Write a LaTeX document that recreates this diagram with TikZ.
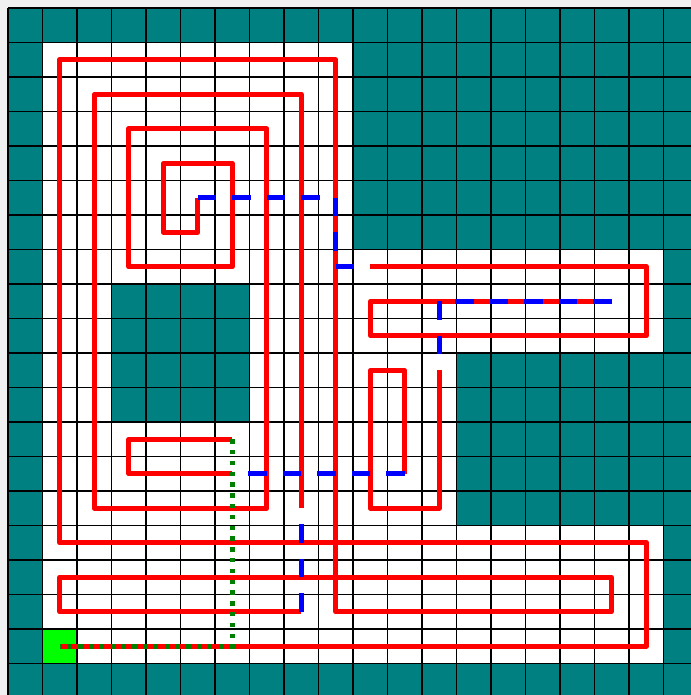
\documentclass[tikz,border=0pt]{standalone}
\definecolor{tealc}{RGB}{0,128,128}
\definecolor{bgc}{RGB}{240,240,240}
\definecolor{limec}{RGB}{0,255,0}
\definecolor{darkg}{RGB}{0,128,0}
\tikzset{
  gridline/.style={black, line width=1.1pt},
  cover/.style={red, line width=3.75pt, line join=round},
  astar/.style={blue, line width=3.75pt, dash pattern=on 13.9pt off 12pt},
  backhome/.style={darkg, line width=3.4pt, dash pattern=on 3.3pt off 4.8pt},
}
\begin{document}
\begin{tikzpicture}[x=25.875pt,y=-25.875pt]
\path[use as bounding box] (-0.231884,-0.231884) rectangle (19.797101,19.913043);
\fill[bgc] (-0.231884,-0.231884) rectangle (19.797101,19.913043);
\begin{scope}
  \clip (-0.231884,-0.231884) rectangle (19.797101,19.913043);
  \fill[white] (0,0) rectangle (20,20);
  % obstacles / border
  \fill[tealc] (0,0) rectangle (20,1);
  \fill[tealc] (0,19) rectangle (20,20);
  \fill[tealc] (0,0) rectangle (1,20);
  \fill[tealc] (19,0) rectangle (20,20);
  \fill[tealc] (10,1) rectangle (19,7);
  \fill[tealc] (13,10) rectangle (19,15);
  \fill[tealc] (3,8) rectangle (7,12);
  % start cell
  \fill[limec] (1,18) rectangle (2,19);
  % grid
  \foreach \i in {0,...,20} {
    \draw[gridline] (\i,0) -- (\i,20);
    \draw[gridline] (0,\i) -- (20,\i);
  }
\end{scope}
\begin{scope}[shift={(0.5,0.5)}]
  % coverage path (red)
  \draw[cover] (1,18) -- (18,18) -- (18,15) -- (1,15) -- (1,1) -- (9,1) -- (9,17)
     -- (17,17) -- (17,16) -- (1,16) -- (1,17) -- (8,17);
  \draw[cover] (8,14) -- (8,2) -- (2,2) -- (2,14) -- (7,14) -- (7,3) -- (3,3)
     -- (3,7) -- (6,7) -- (6,4) -- (4,4) -- (4,6) -- (5,6) -- (5,5);
  \draw[cover] (10,7) -- (18,7) -- (18,9) -- (10,9) -- (10,8) -- (17,8);
  \draw[cover] (12,10) -- (12,14) -- (10,14) -- (10,10) -- (11,10) -- (11,13);
  \draw[cover] (6,13) -- (3,13) -- (3,12) -- (6,12);
  % transition paths (blue dashed)
  \draw[astar] (8,17) -- (8,14);
  \draw[astar] (5,5) -- (9,5) -- (9,7) -- (10,7);
  \draw[astar] (17,8) -- (12,8) -- (12,10);
  \draw[astar] (11,13) -- (6,13);
  % return path (green dotted)
  \draw[backhome] (6,12) -- (6,18) -- (1,18);
\end{scope}
\end{tikzpicture}
\end{document}
